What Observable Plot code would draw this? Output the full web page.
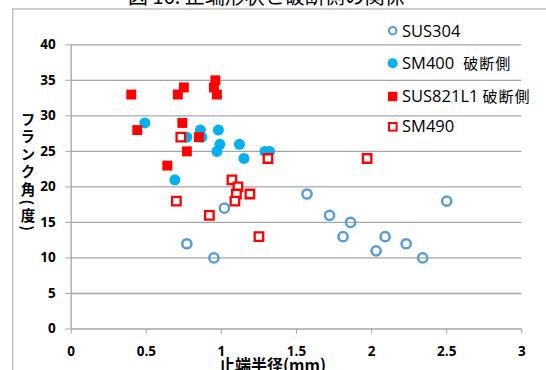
<!DOCTYPE html>
<html><head><meta charset="utf-8">
<script src="https://cdn.jsdelivr.net/npm/d3@7"></script>
<script src="https://cdn.jsdelivr.net/npm/@observablehq/plot@0.6"></script>
<style>
body{margin:0;background:#fff;}
#wrap{position:relative;width:546px;height:370px;overflow:hidden;}
#wrap svg{display:block;}
</style></head><body><div id="wrap"></div>
<script>
// ---- data (止端半径 mm, フランク角 度) ----
const sus304X = [0.77, 0.95, 1.02, 1.57, 1.72, 1.86, 1.81, 2.09, 2.03, 2.23, 2.34, 2.50];
const sus304Y = [12, 10, 17, 19, 16, 15, 13, 13, 11, 12, 10, 18];
const sm400X = [0.49, 0.69, 0.77, 0.86, 0.87, 0.98, 0.99, 0.97, 1.12, 1.15, 1.29, 1.32];
const sm400Y = [29, 21, 27, 28, 27, 28, 26, 25, 26, 24, 25, 25];
const sus821X = [0.40, 0.44, 0.64, 0.71, 0.75, 0.74, 0.77, 0.85, 0.96, 0.95, 0.97];
const sus821Y = [33, 28, 23, 33, 34, 29, 25, 27, 35, 34, 33];
const sm490X = [0.73, 1.31, 0.70, 0.92, 1.07, 1.11, 1.10, 1.09, 1.19, 1.25, 1.97];
const sm490Y = [27, 24, 18, 16, 21, 20, 19, 18, 19, 13, 24];
const seriesNames = ["SUS304", "SM400", "SUS821L1", "SM490"];
const seriesNotes = ["", "破断側", "破断側", ""];
const xTicks = [0, 0.5, 1, 1.5, 2, 2.5, 3];
const yTicks = [0, 5, 10, 15, 20, 25, 30, 35, 40];
const titleText = "図 16. 止端形状と破断側の関係";
const xLabel = "止端半径(mm)";
const yLabel = "フランク角(度)";

const toRows = (xs, ys, s) => xs.map((x, i) => ({series: s, x, y: ys[i]}));
const d304 = toRows(sus304X, sus304Y, seriesNames[0]);
const d400 = toRows(sm400X, sm400Y, seriesNames[1]);
const d821 = toRows(sus821X, sus821Y, seriesNames[2]);
const d490 = toRows(sm490X, sm490Y, seriesNames[3]);

const GRID = "#A6A6A6";
const latin = "'Open Sans', 'Noto Sans CJK JP', sans-serif";
const cjk = "'Noto Sans CJK JP', sans-serif";

const chart = Plot.plot({
  width: 546, height: 370,
  marginLeft: 70.7, marginRight: 24.7, marginTop: 44.3, marginBottom: 41.5,
  x: {domain: [0, 3]},
  y: {domain: [0, 40]},
  style: {fontFamily: latin, background: "transparent", color: "#000"},
  marks: [
    Plot.gridY(yTicks, {stroke: GRID, strokeOpacity: 1, strokeWidth: 1.3}),
    Plot.ruleX([0], {stroke: GRID, strokeWidth: 1.3}),
    Plot.axisY(yTicks, {tickSize: 5.5, tickPadding: 10, stroke: GRID, fill: "#000", fontSize: 13.5, fontWeight: "bold", label: null, tickFormat: d => String(d)}),
    Plot.axisX(xTicks, {tickSize: 5, tickPadding: 12.5, stroke: GRID, fill: "#000", fontSize: 13.5, fontWeight: "bold", label: null, tickFormat: d => String(d)}),
    Plot.dot(d304, {x: "x", y: "y", r: 4.6, stroke: "#5B9BD5", strokeWidth: 2.5, fill: "none"}),
    Plot.dot(d400, {x: "x", y: "y", r: 5.5, fill: "#00B0F0", stroke: "none"}),
    Plot.dot(d821, {x: "x", y: "y", r: 5.6, symbol: "square", fill: "#FF0000", stroke: "none"}),
    Plot.dot(d490, {x: "x", y: "y", r: 4.8, symbol: "square", fill: "#fff", stroke: "#FF0000", strokeWidth: 2.3})
  ]
});
document.getElementById("wrap").appendChild(chart);

const svg = d3.select(chart);
// chart frame
svg.append("path").attr("d", "M12.7,370V9H546").attr("fill", "none").attr("stroke", "#BFBFBF").attr("stroke-width", 1.4);
// title (cropped at top)
svg.append("text").attr("x", 128).attr("y", 4).attr("text-anchor", "start").attr("font-family", cjk).attr("font-size", 20).attr("fill", "#000").text(titleText);
// x label
svg.append("text").attr("x", 272.5).attr("y", 371).attr("text-anchor", "middle").attr("font-family", cjk).attr("font-size", 16).attr("font-weight", "bold").attr("fill", "#000").text(xLabel);
// y label (vertical)
svg.append("text").attr("x", 28).attr("y", 112).attr("text-anchor", "start").attr("font-family", cjk).attr("font-size", 14.5).attr("font-weight", "bold")
  .attr("letter-spacing", 3).attr("fill", "#000").style("writing-mode", "vertical-rl").text(yLabel);

// legend
const legY = [30.7, 63.3, 96.5, 126.7];
const legBase = [37.3, 69, 101.7, 132.3];
const lg = svg.append("g").attr("text-anchor", "start");
lg.append("circle").attr("cx", 392.7).attr("cy", legY[0]).attr("r", 3.7).attr("fill", "none").attr("stroke", "#5B9BD5").attr("stroke-width", 2.2);
lg.append("circle").attr("cx", 392.7).attr("cy", legY[1]).attr("r", 5).attr("fill", "#00B0F0");
lg.append("rect").attr("x", 388).attr("y", legY[2] - 4.7).attr("width", 9.4).attr("height", 9.4).attr("fill", "#FF0000");
lg.append("rect").attr("x", 389).attr("y", legY[3] - 3.7).attr("width", 7.6).attr("height", 7.6).attr("fill", "#fff").attr("stroke", "#FF0000").attr("stroke-width", 2);
seriesNames.forEach((n, i) => {
  const t = lg.append("text").attr("x", 402).attr("y", legBase[i]).attr("text-anchor", "start").attr("font-family", latin).attr("font-size", 16.5).attr("fill", "#000");
  t.append("tspan").text(n);
  if (seriesNotes[i]) {
    t.append("tspan").attr("dx", i === 1 ? 9 : 4).attr("font-family", cjk).attr("font-size", 15).attr("letter-spacing", 1).text(seriesNotes[i]);
  }
});
</script></body></html>
